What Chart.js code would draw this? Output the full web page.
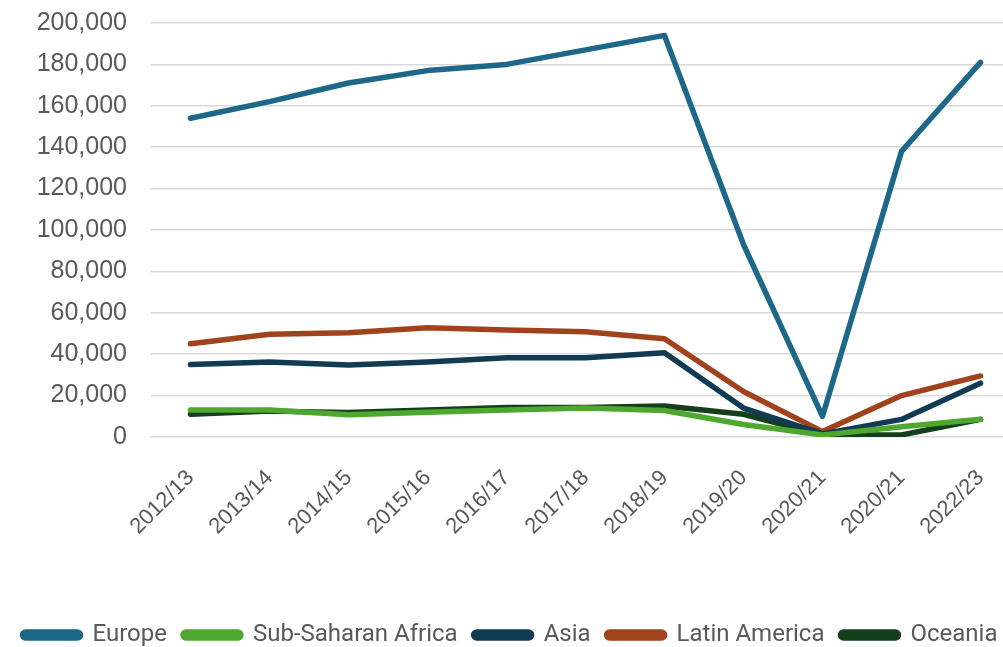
<!DOCTYPE html>
<html>
<head>
<meta charset="utf-8">
<script src="https://cdn.jsdelivr.net/npm/chart.js@4"></script>
<style>
  html, body { margin: 0; padding: 0; background: #fff; overflow: hidden; }
  #wrap { width: 1020px; height: 673px; position: relative; margin-top: -16px; }
</style>
</head>
<body>
<div id="wrap"><canvas id="myChart"></canvas></div>
<script>
const years = ['2012/13', '2013/14', '2014/15', '2015/16', '2016/17', '2017/18', '2018/19', '2019/20', '2020/21', '2020/21', '2022/23'];

const europe = [154000, 162000, 171000, 177000, 180000, 187000, 194000, 93000, 10000, 138000, 181000];
const subSaharanAfrica = [13000, 13000, 10800, 12000, 13000, 14000, 12800, 6000, 1000, 5000, 8600];
const asia = [35000, 36200, 34800, 36200, 38300, 38300, 40700, 14000, 1500, 8500, 26000];
const latinAmerica = [45000, 49600, 50400, 52800, 51700, 50900, 47500, 22000, 2600, 20000, 29500];
const oceania = [11000, 12500, 11800, 13000, 14200, 14200, 15000, 11000, 1000, 1000, 8500];

function serie(label, data, color) {
    return {
        label: label,
        data: data,
        borderColor: color,
        backgroundColor: color,
        borderWidth: 5.5,
        pointRadius: 0,
        tension: 0,
        borderCapStyle: 'round',
        borderJoinStyle: 'round'
    };
}

const ctx = document.getElementById('myChart').getContext('2d');
new Chart(ctx, {
    type: 'line',
    data: {
        labels: years,
        datasets: [
            serie('Europe', europe, '#1d6788'),
            serie('Sub-Saharan Africa', subSaharanAfrica, '#4ea72e'),
            serie('Asia', asia, '#113b52'),
            serie('Latin America', latinAmerica, '#a0431c'),
            serie('Oceania', oceania, '#143f1b')
        ]
    },
    options: {
        responsive: true,
        maintainAspectRatio: false,
        animation: false,
        layout: { padding: { top: 6, left: 0, right: 0, bottom: 0 } },
        plugins: {
            legend: {
                position: 'bottom',
                labels: {
                    boxWidth: 58,
                    boxHeight: 6,
                    useBorderRadius: true,
                    borderRadius: 3,
                    padding: 16,
                    color: '#595959',
                    font: { family: 'Roboto', size: 24 }
                }
            },
            tooltip: { enabled: false }
        },
        scales: {
            x: {
                offset: true,
                grid: { display: false },
                border: { display: false },
                afterFit: scale => { scale.height = 170; },
                ticks: {
                    minRotation: 45,
                    maxRotation: 45,
                    color: '#595959',
                    padding: 20,
                    font: { family: 'Liberation Sans', size: 22 }
                }
            },
            y: {
                min: 0,
                max: 200000,
                border: { display: false },
                grid: { color: '#d9d9d9', lineWidth: 1.5, drawTicks: false },
                afterFit: scale => { scale.width = 151; },
                ticks: {
                    stepSize: 20000,
                    padding: 24,
                    color: '#595959',
                    font: { family: 'Liberation Sans', size: 25 },
                    callback: v => v.toLocaleString('en-US')
                }
            }
        }
    }
});
</script>
</body>
</html>
